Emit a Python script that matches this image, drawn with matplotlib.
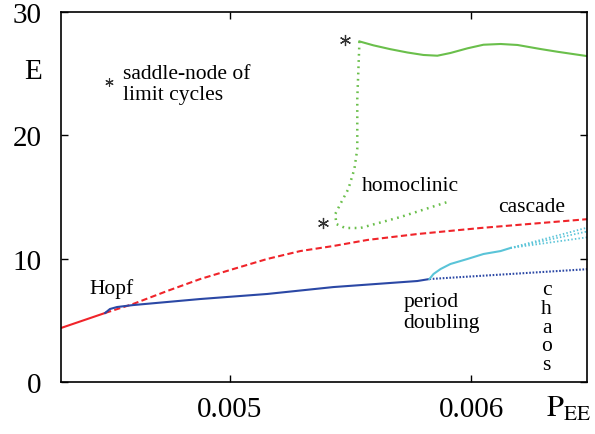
import matplotlib
matplotlib.use("Agg")
import matplotlib.pyplot as plt

plt.rcParams['font.family'] = ['Liberation Serif', 'DejaVu Serif']
plt.rcParams['mathtext.fontset'] = 'stix'

# data
red_stable_x = [0.00430, 0.004483]
red_stable_y = [4.38, 5.60]

red_unstable_x = [0.004483, 0.004599, 0.004740, 0.004877, 0.005014, 0.005155,
                  0.005292, 0.005429, 0.005570, 0.005777, 0.006039, 0.006491]
red_unstable_y = [5.60, 6.33, 7.38, 8.35, 9.16, 9.98,
                  10.62, 11.03, 11.52, 12.00, 12.49, 13.22]

blue_x = [0.004483, 0.004503, 0.004532, 0.004599, 0.004877, 0.005155,
          0.005429, 0.005777, 0.005827]
blue_y = [5.60, 5.92, 6.08, 6.24, 6.73, 7.14, 7.70, 8.19, 8.35]

blue_unst_x = [0.005827, 0.006163, 0.006491]
blue_unst_y = [8.35, 8.76, 9.16]

cyan_x = [0.005827, 0.005844, 0.005873, 0.005914, 0.005985, 0.006051,
          0.006122, 0.006163]
cyan_y = [8.35, 8.76, 9.16, 9.57, 9.98, 10.38, 10.62, 10.87]

cyan_branch_x = [0.006163, 0.006491]
cyan_branch_y = [[10.87, 12.57], [10.87, 12.25], [10.87, 11.76]]

green_x = [0.005537, 0.005595, 0.005665, 0.005736, 0.005802, 0.005860, 0.005914,
           0.005985, 0.006051, 0.006122, 0.006192, 0.006288, 0.006358, 0.006487]
green_y = [27.62, 27.30, 26.99, 26.72, 26.52, 26.46, 26.68,
           27.06, 27.35, 27.41, 27.33, 27.00, 26.78, 26.41]

homo_x = [0.005537, 0.005532, 0.005528, 0.005528, 0.005516, 0.005491, 0.005458,
          0.005437, 0.005441, 0.005478, 0.005541, 0.005707, 0.005902]
homo_y = [27.62, 25.0, 22.95, 18.90, 17.27, 15.65, 14.44,
          13.63, 12.81, 12.49, 12.49, 13.38, 14.60]

snlc_x = [0.005478, 0.005387]
snlc_y = [27.7, 12.9]

xticks = [0.005, 0.006]
yticks = [0, 10, 20, 30]

red = '#f0242a'
blue = '#2b48a5'
cyan = '#5ac4d8'
green = '#6abf4b'

fig = plt.figure(figsize=(5.95, 4.35), dpi=100)
ax = fig.add_axes([0.1025, 0.1195, 0.884, 0.8505])

ax.plot(red_stable_x, red_stable_y, color=red, lw=1.5)
ax.plot(red_unstable_x, red_unstable_y, color=red, lw=1.5, dashes=(3, 1.6))
ax.plot(blue_x, blue_y, color=blue, lw=1.5)
ax.plot(blue_unst_x, blue_unst_y, color=blue, lw=1.5, dashes=(0.8, 0.8))
ax.plot(cyan_x, cyan_y, color=cyan, lw=1.5)
for by in cyan_branch_y:
    ax.plot(cyan_branch_x, by, color=cyan, lw=1.3, dashes=(0.8, 1.2))
ax.plot(green_x, green_y, color=green, lw=1.5)
ax.plot(homo_x, homo_y, color=green, lw=1.8, dashes=(0.7, 1.8))
ax.plot(snlc_x, snlc_y, ls='none', marker=(6, 2, 0), ms=8, mew=0.9,
        color='#333333')
# key symbol
ax.plot([0.004500], [24.3], ls='none', marker=(6, 2, 0), ms=6, mew=0.8,
        color='#333333')

ax.set_xlim(0.0043, 0.00648)
ax.set_ylim(0, 30)
ax.set_xticks(xticks)
ax.set_xticklabels(['0.005', '0.006'])
ax.set_yticks(yticks)
ax.tick_params(direction='in', length=5, width=1, labelsize=21,
               top=True, right=True)
ax.tick_params(axis='x', pad=10)
ax.tick_params(axis='y', pad=14)
for s in ax.spines.values():
    s.set_linewidth(1.2)

ax.text(-0.053, 0.84, 'E', transform=ax.transAxes, fontsize=21,
        ha='center', va='center')
ax.text(0.965, -0.07, r'$\mathrm{P}_{\mathrm{EE}}$', transform=ax.transAxes,
        fontsize=22, ha='center', va='center')

fs = 15.5
ax.text(0.00451, 7.6, 'Hopf', fontsize=fs, ha='center', va='center')
ax.text(0.00575, 15.9, 'homoclinic', fontsize=fs, ha='center', va='center')
ax.text(0.00625, 14.2, 'cascade', fontsize=fs, ha='center', va='center')
ax.text(0.00572, 5.7, 'period\ndoubling', fontsize=fs, ha='left', va='center',
        linespacing=1.15)
ax.text(0.006313, 4.45, 'c\nh\na\no\ns', fontsize=fs, ha='center',
        va='center', linespacing=0.98)
ax.text(0.004557, 24.2, 'saddle-node of\nlimit cycles', fontsize=fs,
        ha='left', va='center', linespacing=1.15)

fig.savefig('out.png', dpi=100)
